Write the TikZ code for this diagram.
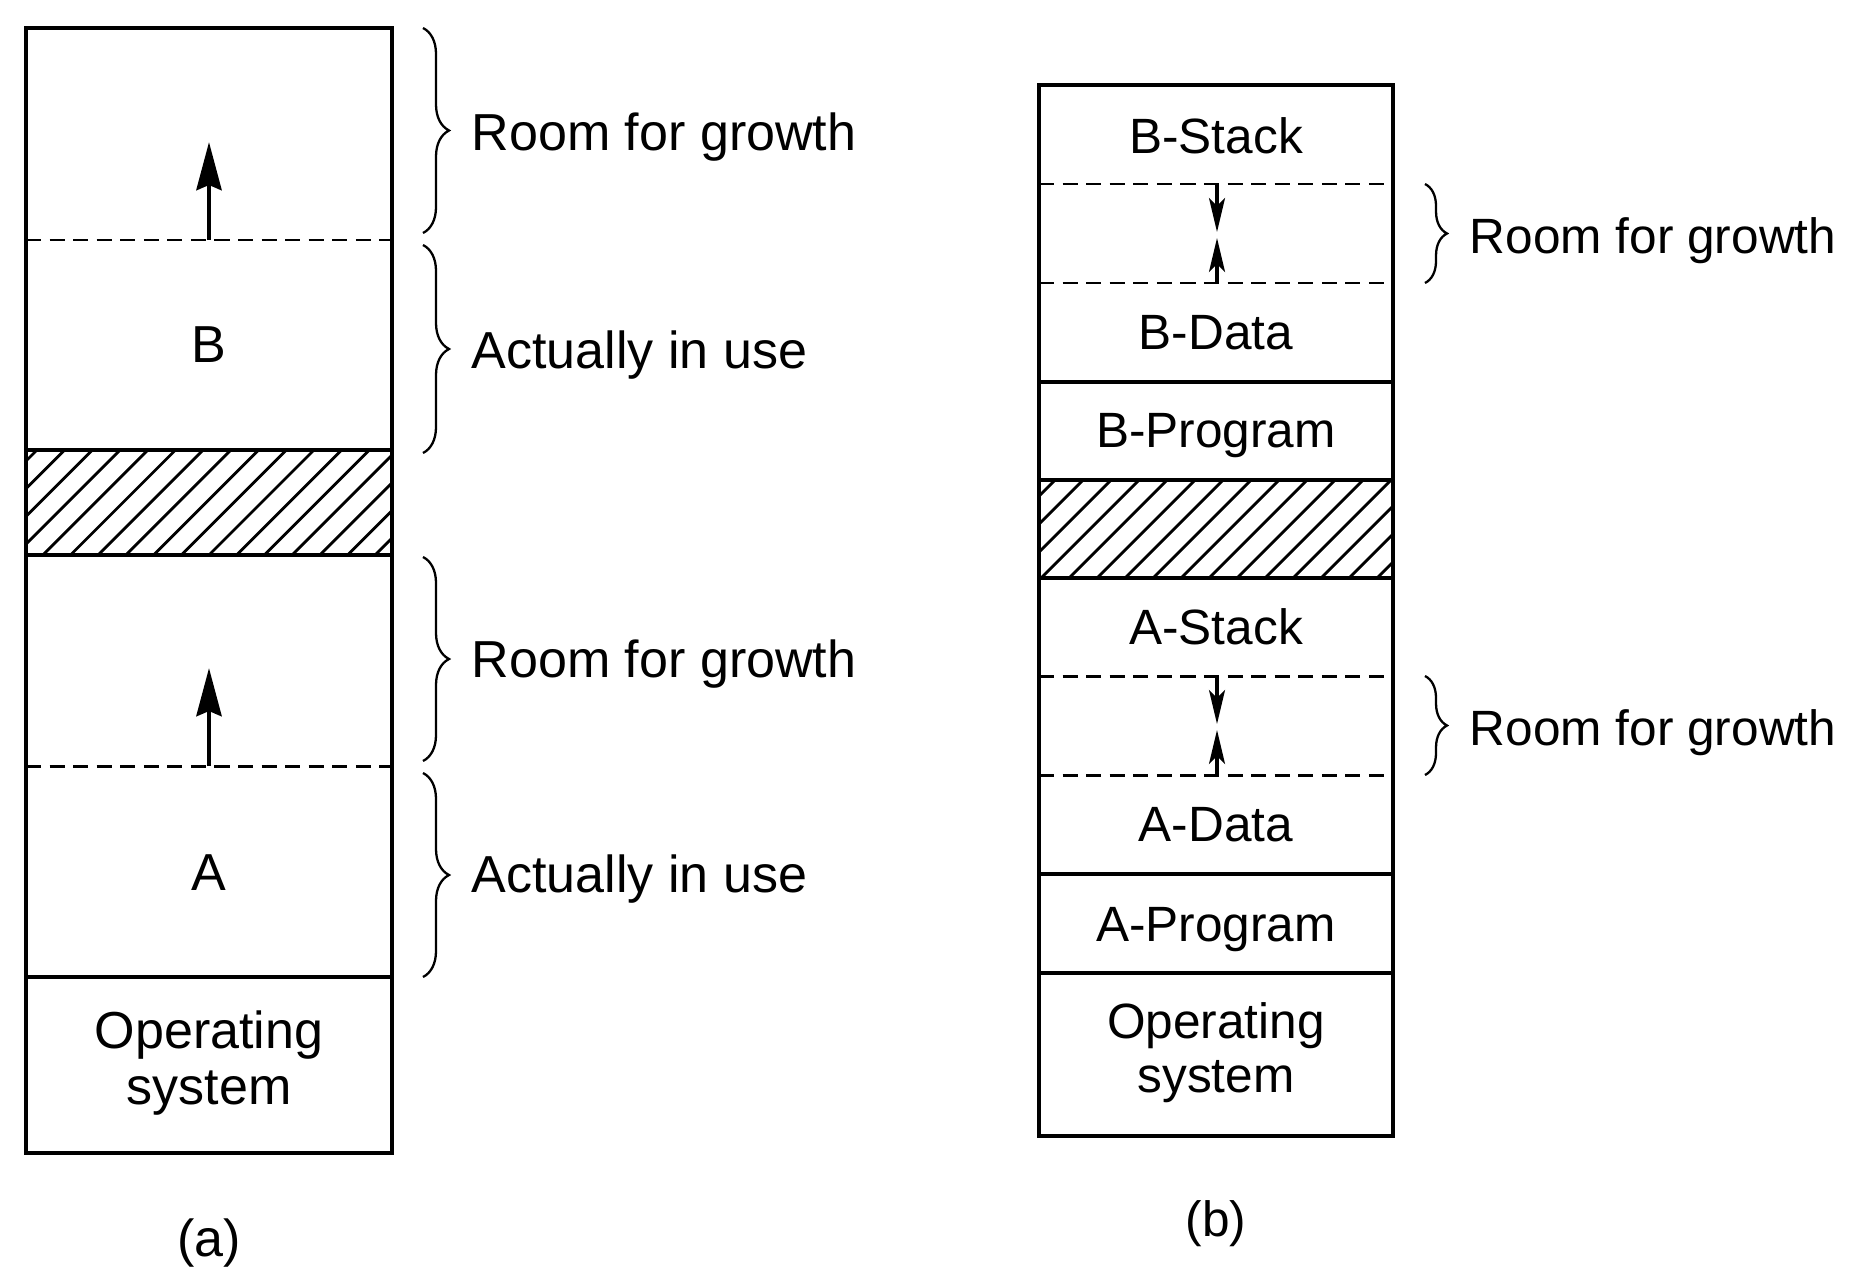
\documentclass[tikz,border=0pt]{standalone}
\usepackage{fontspec}
\setmainfont{Liberation Sans}
\usetikzlibrary{decorations.pathreplacing,arrows.meta}
\begin{document}
\begin{tikzpicture}[x=0.01cm,y=-0.01cm,
  frame/.style={line width=1.25pt},
  dashsep/.style={line width=0.85pt, dash pattern=on 4.3pt off 2.4pt},
  hatchline/.style={line width=0.8pt},
  growbrace/.style={decorate, decoration={brace, amplitude=#1}, line width=0.65pt},
  bigtxt/.style={font=\fontsize{14.8pt}{15.9pt}\selectfont, inner sep=0pt},
  smalltxt/.style={font=\fontsize{14.1pt}{15.1pt}\selectfont, inner sep=0pt},
  bigarrow/.style={line width=1.4pt, -{Stealth[length=0.48cm,width=0.25cm,inset=0.05cm]}},
  smallarrow/.style={line width=0.9pt, -{Stealth[length=0.34cm,width=0.16cm,inset=0.08cm]}}
]
\useasboundingbox (0,0) rectangle (1858,1276);
\fill[white] (0,0) rectangle (1858,1276);

% ---------- (a) ----------
\begin{scope}
  \clip (26,450) rectangle (392,555);
  \foreach \c in {459.3,487,...,980} {
    \draw[hatchline] (\c-555,555) -- (\c-450,450);
  }
\end{scope}
\draw[dashsep] (26,240) -- (392,240);
\draw[dashsep] (26,766) -- (392,766);
\draw[frame] (26,450) -- (392,450);
\draw[frame] (26,555) -- (392,555);
\draw[frame] (26,977) -- (392,977);
\draw[frame] (26,28) rectangle (392,1153);

\coordinate (aB1) at (209,240);
\coordinate (aB1t) at (209,142);
\coordinate (aA1) at (209,766);
\coordinate (aA1t) at (209,668);
\draw[bigarrow] (aB1) -- (aB1t);
\draw[bigarrow] (aA1) -- (aA1t);

\node[bigtxt, anchor=base] (labB) at (209,362) {B};
\node[bigtxt, anchor=base] (labA) at (209,890) {A};
\node[bigtxt, anchor=base, align=center] (osA) at (209,1104) {Operating\\system};
\node[bigtxt, anchor=base] (capA) at (209,1256) {(a)};

\draw[growbrace=0.26cm] (423,28) -- (423,233);
\draw[growbrace=0.26cm] (423,245) -- (423,453);
\draw[growbrace=0.26cm] (423,557) -- (423,761);
\draw[growbrace=0.26cm] (423,773) -- (423,977);
\node[bigtxt, anchor=base west] (rfgA1) at (471,151) {Room for growth};
\node[bigtxt, anchor=base west] (aiuA1) at (471,368) {Actually in use};
\node[bigtxt, anchor=base west] (rfgA2) at (471,677) {Room for growth};
\node[bigtxt, anchor=base west] (aiuA2) at (471,892) {Actually in use};

% ---------- (b) ----------
\begin{scope}
  \clip (1039,480) rectangle (1393,578);
  \foreach \c in {1479,1507,...,2000} {
    \draw[hatchline] (\c-578,578) -- (\c-480,480);
  }
\end{scope}
\draw[dashsep] (1039,184) -- (1393,184);
\draw[dashsep] (1039,283) -- (1393,283);
\draw[dashsep] (1039,676) -- (1393,676);
\draw[dashsep] (1039,775) -- (1393,775);
\foreach \yy in {382,480,578,874,973} {
  \draw[frame] (1039,\yy) -- (1393,\yy);
}
\draw[frame] (1039,85) rectangle (1393,1136);

\coordinate (bS1) at (1217,184);
\coordinate (bS1t) at (1217,232);
\coordinate (bD1) at (1217,283);
\coordinate (bD1t) at (1217,238);
\coordinate (aS1) at (1217,676);
\coordinate (aS1t) at (1217,724);
\coordinate (aD1) at (1217,775);
\coordinate (aD1t) at (1217,730);
\draw[smallarrow] (bS1) -- (bS1t);
\draw[smallarrow] (bD1) -- (bD1t);
\draw[smallarrow] (aS1) -- (aS1t);
\draw[smallarrow] (aD1) -- (aD1t);

\node[smalltxt, anchor=base] (bstack) at (1216,153) {B-Stack};
\node[smalltxt, anchor=base] (bdata) at (1216,349) {B-Data};
\node[smalltxt, anchor=base] (bprog) at (1216,447) {B-Program};
\node[smalltxt, anchor=base] (astack) at (1216,644) {A-Stack};
\node[smalltxt, anchor=base] (adata) at (1216,841) {A-Data};
\node[smalltxt, anchor=base] (aprog) at (1216,941) {A-Program};
\node[smalltxt, anchor=base, align=center] (osB) at (1216,1092) {Operating\\system};
\node[smalltxt, anchor=base] (capB) at (1216,1236) {(b)};

\draw[growbrace=0.22cm] (1425,184) -- (1425,283);
\draw[growbrace=0.22cm] (1425,676) -- (1425,775);
\node[smalltxt, anchor=base west] (rfgB1) at (1469,253) {Room for growth};
\node[smalltxt, anchor=base west] (rfgB2) at (1469,745) {Room for growth};
\end{tikzpicture}
\end{document}
